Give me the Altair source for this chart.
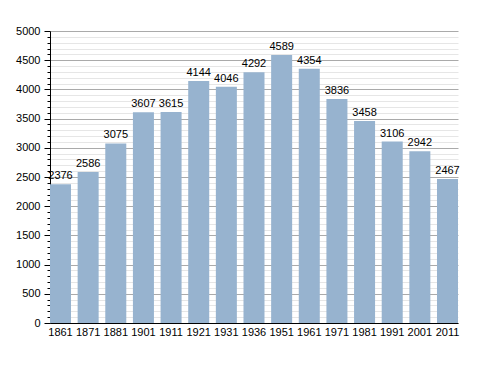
import altair as alt
import pandas as pd

years = ["1861", "1871", "1881", "1901", "1911", "1921", "1931", "1936",
         "1951", "1961", "1971", "1981", "1991", "2001", "2011"]
population = [2376, 2586, 3075, 3607, 3615, 4144, 4046, 4292,
              4589, 4354, 3836, 3458, 3106, 2942, 2467]
y_ticks = list(range(0, 5001, 100))

df = pd.DataFrame({"year": years, "pop": population})

FONT = "Liberation Sans"

x = alt.X("year:N", sort=years, title=None,
          scale=alt.Scale(paddingInner=0.24, paddingOuter=0),
          axis=alt.Axis(labelAngle=0, ticks=False, domainColor="black",
                        labelColor="black", labelFontSize=11, labelFont=FONT,
                        labelPadding=3))
y = alt.Y("pop:Q", title=None,
          scale=alt.Scale(domain=[0, 5000], nice=False),
          axis=alt.Axis(values=y_ticks,
                        labelExpr="datum.value % 500 === 0 ? datum.label : ''",
                        labelOverlap=False, format="d",
                        labelColor="black", labelFontSize=11, labelFont=FONT,
                        domainColor="black", tickColor="black",
                        tickSize={"condition": {"test": "datum.value % 500 === 0", "value": 6}, "value": 3},
                        grid=True,
                        gridColor={"condition": {"test": "datum.value % 500 === 0", "value": "#aaaaaa"}, "value": "#e6e6e6"},
                        gridWidth=1, labelPadding=4))

bars = alt.Chart(df).mark_bar(color="#97b3cf").encode(x=x, y=y)
labels = alt.Chart(df).mark_text(baseline="bottom", dy=-3, fontSize=11,
                                 font=FONT, color="black").encode(
    x=x, y=y, text="pop:Q")

chart = (bars + labels).properties(
    width=408, height=292,
    autosize=alt.AutoSizeParams(type="none"),
    padding={"left": 42, "top": 23, "right": 20, "bottom": 40},
).configure_view(stroke=None)

chart.save("out.html", embed_options={"renderer": "svg", "actions": False})
